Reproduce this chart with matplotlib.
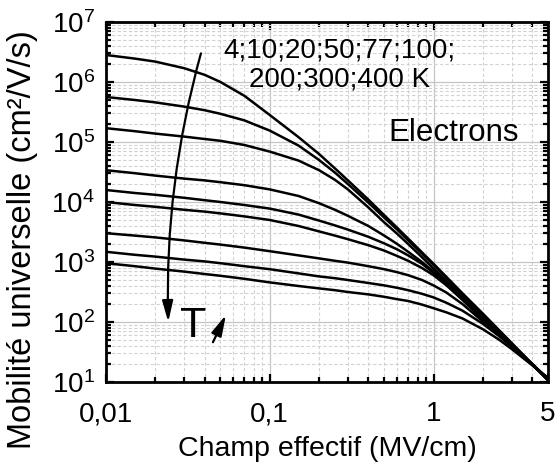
import numpy as np
import matplotlib
matplotlib.use("Agg")
import matplotlib.pyplot as plt
from matplotlib.ticker import LogLocator, NullFormatter, FixedLocator

plt.rcParams['font.family'] = ['Liberation Sans', 'DejaVu Sans']
plt.rcParams['mathtext.fontset'] = 'custom'
plt.rcParams['mathtext.rm'] = 'Liberation Sans'
plt.rcParams['mathtext.it'] = 'Liberation Sans:italic'
plt.rcParams['mathtext.bf'] = 'Liberation Sans:bold'

# effective field (MV/cm)
field = [0.01, 0.015, 0.02, 0.03, 0.04, 0.05, 0.07, 0.1, 0.15, 0.2, 0.25, 0.3,
         0.4, 0.5, 0.6, 0.7, 0.85, 1, 1.2, 1.5, 2, 2.5, 3, 4, 5]

# log10 of mobility (cm2/V/s), one list per temperature
log_mu_4K = [6.45, 6.39, 6.34, 6.23, 6.12, 6.00, 5.77, 5.45, 5.08, 4.80, 4.56, 4.36,
             4.04, 3.78, 3.57, 3.39, 3.16, 2.97, 2.75, 2.48, 2.14, 1.87, 1.65, 1.30, 1.03]
log_mu_10K = [5.75, 5.70, 5.66, 5.59, 5.53, 5.47, 5.36, 5.19, 4.94, 4.70, 4.49, 4.30,
              3.99, 3.74, 3.54, 3.36, 3.14, 2.95, 2.73, 2.46, 2.13, 1.86, 1.64, 1.30, 1.03]
log_mu_20K = [5.23, 5.18, 5.14, 5.09, 5.05, 5.02, 4.95, 4.84, 4.69, 4.53, 4.37, 4.21,
              3.91, 3.66, 3.47, 3.30, 3.08, 2.89, 2.68, 2.42, 2.09, 1.84, 1.63, 1.30, 1.03]
log_mu_50K = [4.53, 4.48, 4.44, 4.39, 4.36, 4.33, 4.28, 4.21, 4.10, 3.98, 3.87, 3.77,
              3.60, 3.44, 3.30, 3.17, 3.00, 2.84, 2.64, 2.39, 2.06, 1.82, 1.62, 1.30, 1.04]
log_mu_77K = [4.20, 4.15, 4.12, 4.07, 4.03, 4.00, 3.95, 3.89, 3.79, 3.69, 3.61, 3.54,
              3.42, 3.31, 3.21, 3.11, 2.97, 2.82, 2.63, 2.38, 2.05, 1.81, 1.61, 1.29, 1.04]
log_mu_100K = [4.00, 3.95, 3.92, 3.87, 3.84, 3.81, 3.76, 3.70, 3.60, 3.51, 3.44, 3.38,
               3.28, 3.19, 3.10, 3.02, 2.90, 2.78, 2.61, 2.37, 2.04, 1.80, 1.61, 1.29, 1.04]
log_mu_200K = [3.48, 3.44, 3.41, 3.36, 3.32, 3.29, 3.24, 3.18, 3.11, 3.06, 3.02, 2.99,
               2.93, 2.88, 2.83, 2.78, 2.70, 2.61, 2.49, 2.30, 2.01, 1.79, 1.60, 1.29, 1.05]
log_mu_300K = [3.17, 3.12, 3.09, 3.04, 3.01, 2.98, 2.93, 2.88, 2.81, 2.76, 2.73, 2.70,
               2.65, 2.61, 2.57, 2.53, 2.47, 2.41, 2.32, 2.19, 1.97, 1.77, 1.59, 1.30, 1.06]
log_mu_400K = [2.98, 2.93, 2.89, 2.84, 2.80, 2.77, 2.72, 2.66, 2.60, 2.56, 2.53, 2.50,
               2.46, 2.42, 2.38, 2.35, 2.29, 2.23, 2.16, 2.06, 1.88, 1.71, 1.55, 1.28, 1.07]

curves = [log_mu_4K, log_mu_10K, log_mu_20K, log_mu_50K, log_mu_77K,
          log_mu_100K, log_mu_200K, log_mu_300K, log_mu_400K]

xticks = [0.01, 0.1, 1, 5]
xticklabels = ['0,01', '0,1', '1', '5']

fig = plt.figure(figsize=(5.56, 4.65), dpi=100)
ax = fig.add_axes([0.1906, 0.1785, 0.795, 0.7742])

for c in curves:
    ax.plot(field, 10 ** np.array(c), color='black', lw=1.8, solid_joinstyle='round')

ax.set_xscale('log')
ax.set_yscale('log')
ax.set_xlim(0.01, 5)
ax.set_ylim(10, 1e7)

ax.xaxis.set_major_locator(FixedLocator(xticks))
ax.set_xticklabels(xticklabels)
ax.xaxis.set_minor_locator(LogLocator(base=10, subs=np.arange(2, 10), numticks=20))
ax.xaxis.set_minor_formatter(NullFormatter())
ax.yaxis.set_major_locator(LogLocator(base=10, numticks=20))
ax.yaxis.set_minor_locator(LogLocator(base=10, subs=np.arange(2, 10), numticks=20))
ax.yaxis.set_minor_formatter(NullFormatter())

ax.grid(which='major', color='#c4c4c4', lw=0.9, ls='-')
ax.grid(which='minor', color='#d2d2d2', lw=0.8, ls=(0, (3, 2)))
ax.set_axisbelow(True)

ax.tick_params(which='both', direction='in', top=True, right=True, width=1.6, labelsize=20)
ax.tick_params(which='major', length=6)
ax.tick_params(which='minor', length=3.5)
ax.tick_params(axis='x', pad=14)
ax.tick_params(axis='y', pad=8)
for s in ax.spines.values():
    s.set_linewidth(2)

ax.set_xlabel('Champ effectif (MV/cm)', fontsize=20.5, labelpad=6)
fig.text(0.041, 0.484, 'Mobilité universelle (cm²/V/s)', rotation=90,
         ha='center', va='center', fontsize=23.5)

ax.text(0.529, 0.88, '4;10;20;50;77;100;\n200;300;400 K', transform=ax.transAxes,
        ha='center', va='center', fontsize=20, linespacing=1.15)
ax.text(0.787, 0.692, 'Electrons', transform=ax.transAxes, ha='center', va='center', fontsize=22.5)
ax.text(0.197, 0.156, 'T', transform=ax.transAxes, ha='center', va='center', fontsize=31)

ax.annotate('', xy=(0.024, 100), xytext=(0.038, 3e6),
            arrowprops=dict(arrowstyle='-|>,head_length=0.7,head_width=0.18', lw=1.6, color='black',
                            connectionstyle='arc3,rad=0.075', shrinkA=0, shrinkB=0, mutation_scale=18))
ax.annotate('', xy=(0.054, 131), xytext=(0.045, 46),
            arrowprops=dict(arrowstyle='-|>,head_length=0.7,head_width=0.18', lw=1.6, color='black',
                            shrinkA=0, shrinkB=0, mutation_scale=18))

fig.savefig('out.png', dpi=100)
